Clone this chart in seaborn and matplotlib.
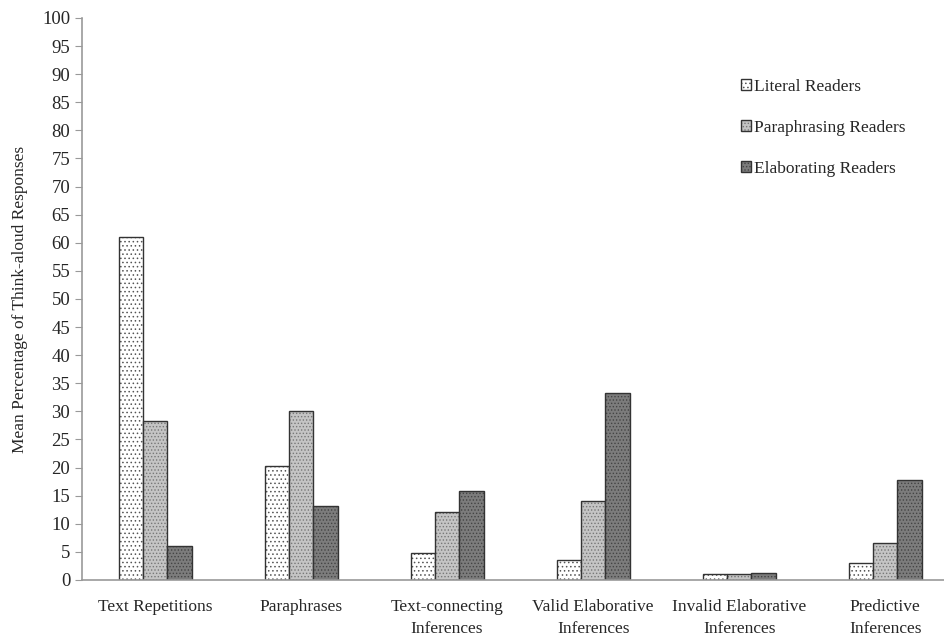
import pandas as pd
import matplotlib.pyplot as plt
import seaborn as sns

# values
categories = ['Text Repetitions', 'Paraphrases', 'Text-connecting\nInferences',
              'Valid Elaborative\nInferences', 'Invalid Elaborative\nInferences',
              'Predictive\nInferences']
groups = ['Literal Readers', 'Paraphrasing Readers', 'Elaborating Readers']
literal = [61.0, 20.2, 4.8, 3.5, 1.1, 3.0]
paraphrasing = [28.3, 30.1, 12.1, 14.0, 1.1, 6.5]
elaborating = [6.0, 13.2, 15.8, 33.2, 1.3, 17.8]

data = pd.DataFrame({
    'Category': categories * 3,
    'Group': [groups[0]] * 6 + [groups[1]] * 6 + [groups[2]] * 6,
    'Value': literal + paraphrasing + elaborating,
})

sns.set_style('white')
plt.rcParams['font.family'] = ['Liberation Serif', 'DejaVu Serif']
plt.rcParams['hatch.linewidth'] = 0.6

fig = plt.figure(figsize=(9.45, 6.44), dpi=100)
ax = fig.add_axes([0.0868, 0.0994, 0.9132, 0.8727])

sns.barplot(data=data, x='Category', y='Value', hue='Group', order=categories,
            hue_order=groups, width=0.5, ax=ax, legend=False,
            palette=['white', '#c4c4c4', '#7c7c7c'],
            edgecolor='#333333', linewidth=1.0, saturation=1)

hatches = ['....', '.....', '.....']
hatch_colors = ['#555555', '#777777', '#444444']
for cont, h, hc in zip(ax.containers, hatches, hatch_colors):
    for bar in cont:
        bar.set_hatch(h)
        bar._hatch_color = plt.matplotlib.colors.to_rgba(hc)

ax.set_ylim(0, 100)
ax.set_xlim(-0.5, 5.41)
ax.set_yticks(range(0, 101, 5))
ax.tick_params(axis='y', labelsize=13.5, length=5, color='#999999', direction='out', left=True)
ax.tick_params(axis='x', labelsize=12.5, length=0, pad=14)
for lbl in ax.get_xticklabels():
    lbl.set_linespacing(1.45)
ax.set_xlabel('')
ax.set_ylabel('Mean Percentage of Think-aloud Responses', fontsize=12.5, labelpad=10)

for side in ['top', 'right']:
    ax.spines[side].set_visible(False)
for side in ['left', 'bottom']:
    ax.spines[side].set_color('#999999')
    ax.spines[side].set_linewidth(1.2)

handles = [cont[0] for cont in ax.containers]
ax.legend(handles, groups, loc='upper left', bbox_to_anchor=(0.745, 0.92),
          frameon=False, fontsize=12.5, handlelength=0.6, handleheight=0.6,
          handletextpad=0.15, labelspacing=1.45)

fig.savefig('out.png', dpi=100)
